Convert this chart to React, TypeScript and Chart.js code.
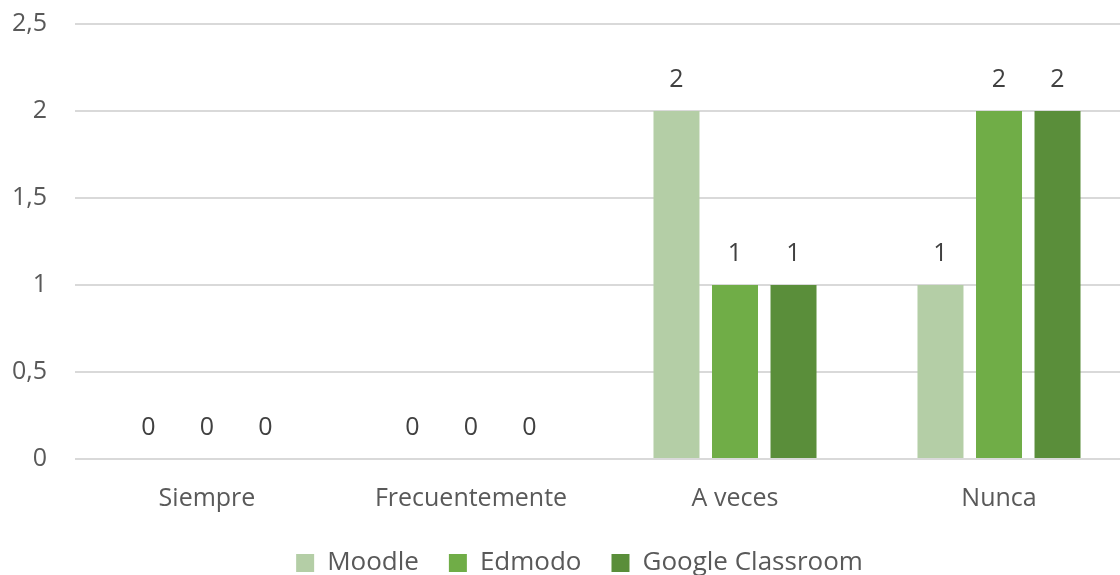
import React, { useEffect, useRef } from "react";
import { Chart, registerables } from "chart.js";

Chart.register(...registerables);

const categories = ["Siempre", "Frecuentemente", "A veces", "Nunca"];
const seriesNames = ["Moodle", "Edmodo", "Google Classroom"];
const moodle = [0, 0, 2, 1];
const edmodo = [0, 0, 1, 2];
const classroom = [0, 0, 1, 2];
const yTickValues = [0, 0.5, 1, 1.5, 2, 2.5];

const colors = ["#b4cea6", "#70ad47", "#5a8e3a"];
const FONT = "'Open Sans', sans-serif";

const dataLabels = {
  id: "dataLabels",
  afterDatasetsDraw(chart: any) {
    const ctx = chart.ctx;
    ctx.save();
    ctx.font = `25px ${FONT}`;
    ctx.fillStyle = "#404040";
    ctx.textAlign = "center";
    ctx.textBaseline = "middle";
    chart.data.datasets.forEach((ds: any, i: number) => {
      const meta = chart.getDatasetMeta(i);
      meta.data.forEach((el: any, j: number) => {
        ctx.fillText(String(ds.data[j]).replace(".", ","), el.x, el.y - 31);
      });
    });
    ctx.restore();
  },
};

// center the legend under the same point as in the reference
const legendShift = {
  id: "legendShift",
  afterLayout(chart: any) {
    if (chart.legend) {
      chart.legend.left += 14;
      chart.legend.right += 14;
    }
  },
};

export default function App() {
  const ref = useRef<HTMLCanvasElement>(null);
  useEffect(() => {
    if (!ref.current) return;
    const chart = new Chart(ref.current, {
      type: "bar",
      data: {
        labels: categories,
        datasets: [moodle, edmodo, classroom].map((d, i) => ({
          label: seriesNames[i],
          data: d,
          backgroundColor: colors[i],
          borderWidth: 0,
          categoryPercentage: 0.665,
          barPercentage: 0.786,
        })),
      },
      options: {
        animation: false,
        responsive: false,
        maintainAspectRatio: false,
        layout: { padding: { left: 0, right: 0, top: 24, bottom: 0 } },
        plugins: {
          tooltip: { enabled: false },
          legend: {
            position: "bottom",
            labels: {
              font: { family: FONT, size: 26 },
              color: "#595959",
              boxWidth: 18,
              boxHeight: 18,
              padding: 30,
            },
          },
        },
        scales: {
          x: {
            grid: { display: false },
            border: { display: false },
            ticks: {
              font: { family: FONT, size: 25 },
              color: "#595959",
              padding: 17,
              maxRotation: 0,
            },
            afterFit(scale: any) {
              scale.height = 61;
            },
          },
          y: {
            min: 0,
            max: 2.5,
            afterBuildTicks(scale: any) {
              scale.ticks = yTickValues.map((v) => ({ value: v }));
            },
            grid: { color: "#d9d9d9", lineWidth: 2, drawTicks: false },
            border: { display: false },
            ticks: {
              font: { family: FONT, size: 25 },
              color: "#595959",
              padding: 28,
              callback: (v: any) => String(v).replace(".", ","),
            },
            afterFit(scale: any) {
              scale.width = 75;
              scale.paddingTop = 0;
              scale.paddingBottom = 0;
            },
          },
        },
      },
      plugins: [dataLabels, legendShift],
    });
    return () => chart.destroy();
  }, []);
  return (
    <div style={{ position: "fixed", left: 0, top: 0, width: 1120, height: 575, overflow: "hidden", background: "#fff" }}>
      <canvas ref={ref} width={1131} height={586} style={{ width: 1131, height: 586, display: "block" }} />
    </div>
  );
}
